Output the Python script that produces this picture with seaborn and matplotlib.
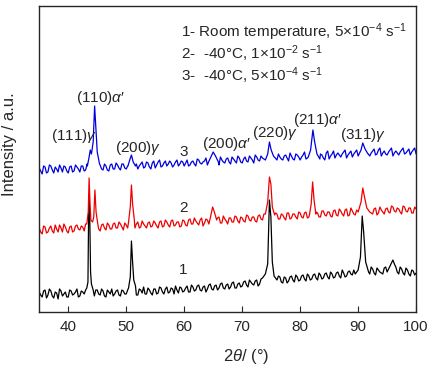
"""XRD patterns: room temperature vs -40 C deformation"""
import numpy as np
import matplotlib
matplotlib.use("Agg")
import matplotlib.pyplot as plt
import seaborn as sns

# sampling grid, 2theta in degrees (whole and half steps interleaved)
grid = np.arange(35.0, 100.01, 0.25)

# baseline intensities (a.u.) at 35.0, 35.5, ... 100.0
black_base = [20, 15, 22, 17, 21, 14, 19, 23, 16, 20,
              15, 21, 18, 23, 16, 20, 22, 17, 21, 16,
              22, 17, 21, 15, 20, 23, 18, 22, 16, 21,
              18, 23, 19, 24, 17, 22, 25, 18, 22, 17,
              23, 19, 24, 18, 25, 20, 23, 26, 19, 24,
              21, 26, 20, 25, 22, 27, 21, 26, 23, 28,
              22, 27, 24, 29, 23, 28, 25, 30, 24, 29,
              26, 31, 25, 30, 27, 32, 28, 33, 30, 35,
              40, 34, 30, 35, 29, 34, 31, 36, 30, 35,
              32, 37, 31, 36, 33, 38, 32, 37, 34, 39,
              33, 38, 35, 40, 34, 39, 36, 41, 37, 40,
              45, 50, 60, 42, 38, 43, 37, 42, 39, 44,
              40, 46, 52, 45, 38, 43, 37, 42, 36, 41,
              39]
red_base = [84, 78, 85, 80, 86, 79, 83, 87, 80, 85,
            79, 86, 81, 87, 82, 85, 88, 83, 87, 82,
            86, 81, 88, 82, 87, 83, 89, 84, 88, 82,
            87, 83, 89, 84, 90, 85, 88, 84, 90, 86,
            89, 84, 91, 86, 90, 85, 92, 87, 90, 86,
            91, 86, 93, 88, 91, 87, 94, 89, 92, 88,
            93, 88, 95, 89, 93, 88, 94, 90, 95, 89,
            94, 90, 96, 91, 95, 90, 97, 92, 96, 93,
            97, 92, 98, 93, 97, 92, 99, 94, 98, 93,
            99, 94, 100, 95, 98, 94, 99, 95, 101, 96,
            100, 95, 102, 96, 101, 96, 103, 97, 101, 97,
            104, 98, 102, 97, 103, 98, 104, 99, 102, 98,
            104, 99, 105, 100, 103, 98, 105, 100, 104, 99,
            103]
blue_base = [144, 138, 145, 140, 146, 139, 143, 147, 140, 145,
             139, 146, 141, 145, 140, 146, 142, 147, 141, 146,
             141, 147, 142, 146, 141, 148, 143, 147, 142, 148,
             143, 148, 144, 149, 143, 148, 144, 150, 145, 149,
             144, 150, 145, 149, 146, 151, 145, 150, 146, 151,
             146, 152, 147, 151, 146, 152, 148, 151, 147, 153,
             148, 153, 147, 152, 149, 154, 148, 153, 149, 154,
             149, 155, 150, 154, 149, 155, 151, 154, 150, 156,
             151, 156, 150, 155, 152, 157, 151, 156, 152, 157,
             152, 157, 153, 158, 152, 157, 153, 158, 154, 159,
             153, 158, 154, 159, 155, 160, 154, 159, 155, 160,
             156, 161, 155, 160, 156, 161, 157, 162, 156, 161,
             157, 162, 156, 161, 157, 162, 158, 161, 157, 162,
             158]

# baseline intensities at the half steps 35.25, 35.75, ... 99.75
black_mid = [17, 21, 14, 23, 16, 20, 13, 21, 18, 15,
             22, 17, 20, 15, 21, 18, 15, 20, 18, 22,
             18, 23, 16, 22, 18, 16, 21, 17, 22, 18,
             22, 19, 21, 17, 23, 19, 18, 24, 19, 23,
             18, 25, 20, 23, 19, 24, 18, 22, 25, 20,
             24, 20, 27, 21, 26, 22, 25, 20, 27, 23,
             26, 22, 28, 24, 27, 23, 29, 24, 28, 25,
             30, 27, 32, 28, 31, 26, 33, 29, 33, 38,
             37, 31, 36, 30, 35, 29, 35, 32, 37, 31,
             36, 33, 38, 32, 37, 34, 39, 33, 38, 35,
             40, 34, 39, 36, 42, 35, 40, 38, 42, 42,
             52, 55, 48, 40, 45, 39, 44, 40, 38, 45,
             43, 49, 48, 40, 45, 39, 44, 38, 42, 37]
red_mid = [80, 86, 79, 84, 81, 87, 80, 84, 88, 81,
           85, 80, 86, 83, 86, 81, 84, 88, 84, 88,
           83, 87, 84, 89, 83, 88, 84, 90, 85, 89,
           84, 90, 85, 88, 84, 91, 86, 89, 85, 91,
           86, 90, 85, 92, 87, 91, 86, 90, 85, 92,
           87, 92, 88, 94, 89, 92, 86, 93, 88, 95,
           90, 94, 89, 96, 91, 94, 90, 96, 91, 95,
           91, 97, 92, 95, 91, 96, 93, 98, 94, 97,
           94, 99, 93, 98, 94, 99, 93, 98, 95, 100,
           95, 99, 94, 101, 96, 100, 95, 101, 97, 100,
           96, 101, 97, 103, 98, 102, 96, 104, 98, 102,
           99, 103, 98, 104, 99, 103, 97, 105, 100, 103,
           100, 106, 101, 104, 100, 106, 101, 104, 99, 105]
blue_mid = [141, 146, 139, 147, 142, 145, 140, 144, 146, 141,
            145, 140, 147, 143, 146, 141, 148, 143, 147, 142,
            145, 143, 148, 142, 147, 143, 149, 144, 148, 144,
            146, 150, 145, 148, 146, 150, 145, 149, 143, 151,
            147, 152, 146, 151, 148, 149, 147, 152, 148, 150,
            149, 146, 150, 148, 153, 149, 150, 154, 149, 152,
            151, 149, 155, 150, 153, 150, 155, 151, 156, 150,
            153, 151, 156, 152, 157, 152, 156, 153, 157, 152,
            154, 153, 158, 153, 156, 154, 159, 153, 158, 155,
            155, 160, 154, 156, 155, 160, 156, 157, 152, 161,
            156, 161, 157, 157, 158, 162, 157, 161, 158, 162,
            158, 163, 158, 158, 159, 163, 158, 164, 159, 158,
            160, 164, 159, 159, 160, 164, 159, 163, 160, 164]

# peak profiles (2theta, intensity)
black_peak_x = [43.2, 43.4, 43.55, 43.7, 43.85, 44.0, 44.3,
                50.4, 50.7, 50.9, 51.1, 51.3, 51.6,
                73.5, 74.0, 74.4, 74.7, 74.95, 75.2, 75.5, 76.0,
                89.5, 90.0, 90.4, 90.7, 90.95, 91.3, 91.8]
black_peak_y = [24, 30, 117, 100, 40, 28, 22,
                24, 35, 71, 50, 32, 26,
                34, 38, 48, 112, 95, 50, 36, 32,
                38, 42, 55, 96, 80, 50, 40]
red_peak_x = [43.2, 43.45, 43.6, 43.75, 43.9, 44.2, 44.4, 44.6, 44.8, 45.1,
              50.4, 50.7, 50.9, 51.1, 51.4,
              64.5, 64.9, 65.2, 65.6,
              74.0, 74.4, 74.7, 74.95, 75.2, 75.6,
              81.6, 81.9, 82.15, 82.4, 82.7,
              90.0, 90.5, 90.8, 91.1, 91.5, 92.0]
red_peak_y = [88, 100, 134, 110, 92, 90, 95, 122, 100, 88,
              90, 105, 127, 108, 92,
              94, 105, 100, 92,
              98, 110, 135, 128, 105, 97,
              97, 108, 130, 112, 98,
              100, 110, 124, 115, 104, 100]
blue_peak_x = [43.3, 43.6, 43.8, 44.0, 44.3, 44.55, 44.75, 45.0, 45.4,
               50.3, 50.6, 50.9, 51.2, 51.6,
               64.2, 64.6, 65.0, 65.4, 65.9,
               74.0, 74.4, 74.7, 75.0, 75.4, 76.0,
               81.4, 81.8, 82.2, 82.5, 82.9, 83.4,
               90.0, 90.5, 90.8, 91.2, 91.7]
blue_peak_y = [146, 155, 162, 158, 170, 206, 185, 160, 148,
               146, 152, 157, 150, 146,
               150, 155, 160, 156, 150,
               152, 158, 170, 162, 156, 152,
               155, 162, 182, 170, 158, 153,
               156, 162, 169, 163, 158]

peak_labels = ["(111)$\\gamma$", "(110)$\\alpha$′", "(200)$\\gamma$", "(200)$\\alpha$′",
               "(220)$\\gamma$", "(211)$\\alpha$′", "(311)$\\gamma$"]
label_x = [41.0, 45.5, 52.0, 67.2, 75.6, 83.05, 90.8]
label_y = [176, 214, 164, 168, 179, 192, 177]

conditions = ["1- Room temperature, 5×10$^{-4}$ s$^{-1}$",
              "2-  -40°C, 1×10$^{-2}$ s$^{-1}$",
              "3-  -40°C, 5×10$^{-4}$ s$^{-1}$"]
curve_ids = ["1", "2", "3"]
curve_id_y = [42, 104, 160]


def merge(base, mid, px, py):
    # interleave whole/half steps, drop points inside a peak window, add the peak points
    y0 = np.empty(len(grid))
    y0[0::2] = base
    y0[1::2] = mid
    px = np.asarray(px, float)
    py = np.asarray(py, float)
    keep = np.ones(len(grid), bool)
    starts = [0] + [i for i in range(1, len(px)) if px[i] - px[i - 1] > 1.0]
    ends = starts[1:] + [len(px)]
    for s, e in zip(starts, ends):
        keep &= ~((grid >= px[s]) & (grid <= px[e - 1]))
    x = np.concatenate([grid[keep], px])
    y = np.concatenate([y0[keep], py])
    order = np.argsort(x)
    return x[order], y[order]


sns.set_style("ticks")
plt.rcParams["font.family"] = ["Liberation Sans", "DejaVu Sans"]
plt.rcParams["mathtext.fontset"] = "custom"
plt.rcParams["mathtext.rm"] = "Liberation Sans"
plt.rcParams["mathtext.it"] = "Liberation Sans:italic"

fig = plt.figure(figsize=(4.46, 3.75), dpi=100)
ax = fig.add_axes([0.088, 0.168, 0.845, 0.816])

for base, mid, px, py, col in [(black_base, black_mid, black_peak_x, black_peak_y, "black"),
                               (red_base, red_mid, red_peak_x, red_peak_y, "#ee0000"),
                               (blue_base, blue_mid, blue_peak_x, blue_peak_y, "#0000dd")]:
    x, y = merge(base, mid, px, py)
    sns.lineplot(x=x, y=y, color=col, lw=0.9, ax=ax, estimator=None, sort=False)

for t, lx, ly in zip(peak_labels, label_x, label_y):
    ax.text(lx, ly, t, fontsize=11, ha="center", va="center")
for t, cy in zip(curve_ids, curve_id_y):
    ax.text(59.9, cy, t, fontsize=11, ha="center", va="center")
for i, t in enumerate(conditions):
    ax.text(59.5, 280 - 22 * i, t, fontsize=11, ha="left", va="center")

ax.set_xlim(35, 100)
ax.set_ylim(0, 306)
ax.set_xticks([40, 50, 60, 70, 80, 90, 100])
ax.set_yticks([])
ax.tick_params(axis="x", direction="in", length=4, labelsize=11, pad=6)
for s in ax.spines.values():
    s.set_linewidth(1.0)
ax.set_xlabel("2$\\theta$/ (°)", fontsize=12)
ax.xaxis.set_label_coords(0.55, -0.115)
ax.set_ylabel("Intensity / a.u.", fontsize=12)
ax.yaxis.set_label_coords(-0.06, 0.55)

fig.savefig("out.png", dpi=100)
